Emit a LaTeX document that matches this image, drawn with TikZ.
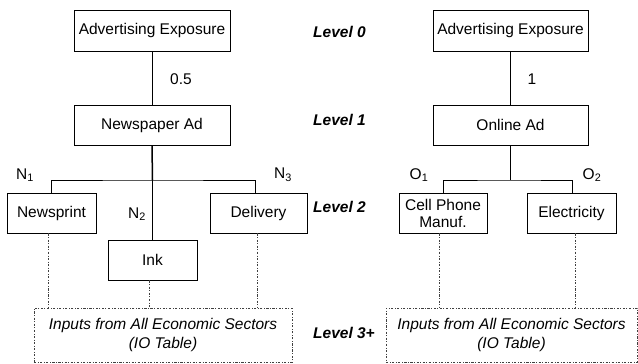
\documentclass[tikz,border=0pt]{standalone}
\usepackage{fontspec}
\setmainfont{Liberation Sans}
\begin{document}
\begin{tikzpicture}[x=1pt,y=-1pt,
  every node/.style={font=\fontsize{15.5}{16}\selectfont, inner sep=0pt},
  box/.style={draw, line width=0.8pt, align=center},
  io/.style={draw=black!75, line width=0.7pt, dash pattern=on 2.2pt off 1.6pt on 0.7pt off 1.6pt, align=center, font=\fontsize{15.5}{18.5}\selectfont\itshape},
  dd/.style={draw=black!75, line width=0.7pt, dash pattern=on 2.2pt off 1.6pt on 0.7pt off 1.6pt},
  con/.style={draw, line width=0.8pt},
  thickcon/.style={draw, line width=1.5pt},
  lvl/.style={font=\fontsize{15.5}{16}\selectfont\bfseries\itshape, anchor=west},
  lab/.style={}]
\useasboundingbox (0,0) rectangle (638,364);
% left tree
\node[box, minimum width=156, minimum height=41] (adv1) at (152,30.5) {Advertising Exposure};
\node[box, minimum width=156, minimum height=40] (news) at (152,125) {Newspaper Ad};
\node[box, minimum width=89, minimum height=40] (np) at (51.5,213) {Newsprint};
\node[box, minimum width=89, minimum height=40] (ink) at (152.5,260) {Ink};
\node[box, minimum width=97, minimum height=40] (del) at (258.5,213) {Delivery};
\node[io, minimum width=258, minimum height=54] (io1) at (163,335) {Inputs from All Economic Sectors\\(IO Table)};
\coordinate (bar1) at (152.5,180);
\coordinate (npt) at (51,193);
\coordinate (delt) at (255,193);
\draw[con] (adv1) -- (news);
\draw[thickcon] (news.south) -- (bar1);
\draw[con] (bar1) -- (ink.north);
\draw[con] (npt) |- (bar1) -| (delt);
\node[lab] (w05) at (181,79) {0.5};
\node[lab] (n1) at (25,175) {N\textsubscript{1}};
\node[lab] (n2) at (137,214) {N\textsubscript{2}};
\node[lab] (n3) at (283,175) {N\textsubscript{3}};
\draw[dd] (np.south -| 48,0) -- (io1.north -| 48,0);
\draw[dd] (ink.south -| 149,0) -- (io1.north -| 149,0);
\draw[dd] (del.south -| 257,0) -- (io1.north -| 257,0);
% levels
\node[lvl] (l0) at (313,32) {Level 0};
\node[lvl] (l1) at (313,120) {Level 1};
\node[lvl] (l2) at (313,207) {Level 2};
\node[lvl] (l3) at (313,333) {Level 3+};
% right tree
\node[box, minimum width=155, minimum height=41] (adv2) at (510.5,30.5) {Advertising Exposure};
\node[box, minimum width=155, minimum height=40] (online) at (510.5,125) {Online Ad};
\node[box, minimum width=88, minimum height=40, font=\fontsize{15.5}{17}\selectfont] (cell) at (443,213) {Cell Phone\\Manuf.};
\node[box, minimum width=89, minimum height=40] (elec) at (571.5,213) {Electricity};
\node[io, minimum width=251, minimum height=54] (io2) at (511.5,335) {Inputs from All Economic Sectors\\(IO Table)};
\coordinate (bar2) at (510.5,180);
\coordinate (cellt) at (443,193);
\coordinate (elect) at (572,193);
\draw[con] (adv2) -- (online);
\draw[thickcon] (online.south) -- (bar2);
\draw[con] (cellt) |- (bar2) -| (elect);
\node[lab] (w1) at (532,79) {1};
\node[lab] (o1) at (419,175) {O\textsubscript{1}};
\node[lab] (o2) at (592,175) {O\textsubscript{2}};
\draw[dd] (cell.south -| 439,0) -- (io2.north -| 439,0);
\draw[dd] (elec.south -| 575,0) -- (io2.north -| 575,0);
\end{tikzpicture}
\end{document}
